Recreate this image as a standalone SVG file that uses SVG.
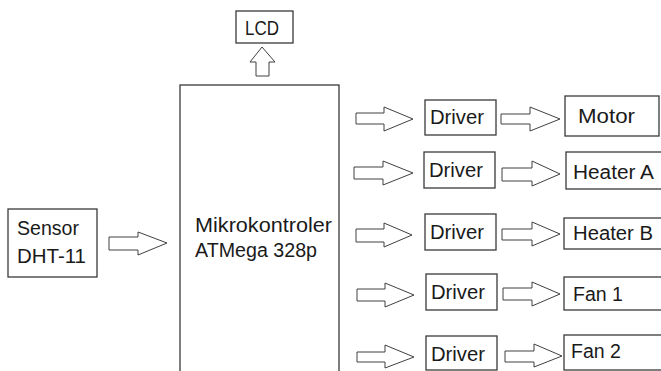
<svg xmlns="http://www.w3.org/2000/svg" width="661" height="371" viewBox="0 0 661 371">
<style>
.box{fill:#fff;stroke:#3a3a3a;stroke-width:1.3}
.arr{fill:#fff;stroke:#404040;stroke-width:1}
text{font-family:"Liberation Sans",Arial,sans-serif;font-size:20px;fill:#1a1a1a}
</style>
<rect width="661" height="371" fill="#fff"/>
<g id="lcd"><rect class="box" x="236" y="11" width="57" height="32"/><text x="245" y="35" textLength="34" lengthAdjust="spacingAndGlyphs">LCD</text></g>
<g id="mcu"><rect class="box" x="180" y="85" width="159" height="300"/><text x="195" y="232" textLength="137" lengthAdjust="spacingAndGlyphs">Mikrokontroler</text><text x="195" y="257" textLength="122" lengthAdjust="spacingAndGlyphs">ATMega 328p</text></g>
<g id="sensor"><rect class="box" x="8" y="209" width="89" height="68"/><text x="17" y="235" textLength="62" lengthAdjust="spacingAndGlyphs">Sensor</text><text x="17" y="263" textLength="69" lengthAdjust="spacingAndGlyphs">DHT-11</text></g>
<g id="driver1"><rect class="box" x="425" y="100" width="71" height="35"/><text x="430" y="124" textLength="54" lengthAdjust="spacingAndGlyphs">Driver</text></g>
<g id="driver2"><rect class="box" x="424" y="152" width="71" height="36"/><text x="429" y="177" textLength="54" lengthAdjust="spacingAndGlyphs">Driver</text></g>
<g id="driver3"><rect class="box" x="425" y="214" width="71" height="36"/><text x="430" y="239" textLength="54" lengthAdjust="spacingAndGlyphs">Driver</text></g>
<g id="driver4"><rect class="box" x="426" y="274" width="71" height="36"/><text x="431" y="299" textLength="54" lengthAdjust="spacingAndGlyphs">Driver</text></g>
<g id="driver5"><rect class="box" x="426" y="336" width="71" height="34"/><text x="431" y="361" textLength="54" lengthAdjust="spacingAndGlyphs">Driver</text></g>
<g id="motor"><rect class="box" x="565" y="96" width="94" height="40"/><text x="578" y="123" textLength="57" lengthAdjust="spacingAndGlyphs">Motor</text></g>
<g id="heaterA"><rect class="box" x="566" y="152" width="100" height="37"/><text x="573" y="179" textLength="81" lengthAdjust="spacingAndGlyphs">Heater A</text></g>
<g id="heaterB"><rect class="box" x="564" y="218" width="100" height="31"/><text x="573" y="240" textLength="80" lengthAdjust="spacingAndGlyphs">Heater B</text></g>
<g id="fan1"><rect class="box" x="564" y="277" width="100" height="33"/><text x="573" y="301" textLength="50" lengthAdjust="spacingAndGlyphs">Fan 1</text></g>
<g id="fan2"><rect class="box" x="564" y="335" width="100" height="35"/><text x="571" y="358" textLength="50" lengthAdjust="spacingAndGlyphs">Fan 2</text></g>
<g id="connectors">
<polygon class="arr" points="256,76 256,62 250,62 262,47 275,62 269,62 269,76"/>
<polygon class="arr" points="109,237 138,237 138,232 167,243 138,255 138,250 109,250"/>
<polygon class="arr" points="356,113 384,113 384,107 413,119 384,131 384,124 356,124"/>
<polygon class="arr" points="501,114 530,114 530,107 560,119 530,131 530,124 501,124"/>
<polygon class="arr" points="354,167 383,167 383,161 413,173 383,185 383,179 354,179"/>
<polygon class="arr" points="502,168 532,168 532,161 560,174 532,186 532,181 502,181"/>
<polygon class="arr" points="356,229 384,229 384,223 412,235 384,247 384,242 356,242"/>
<polygon class="arr" points="502,229 532,229 532,222 560,234 532,246 532,240 502,240"/>
<polygon class="arr" points="357,289 385,289 385,283 414,295 385,307 385,301 357,301"/>
<polygon class="arr" points="503,288 532,288 532,282 560,294 532,306 532,300 503,300"/>
<polygon class="arr" points="357,352 385,352 385,345 414,357 385,368 385,362 357,362"/>
<polygon class="arr" points="505,351 534,351 534,344 562,356 534,367 534,362 505,362"/>
</g>
</svg>
